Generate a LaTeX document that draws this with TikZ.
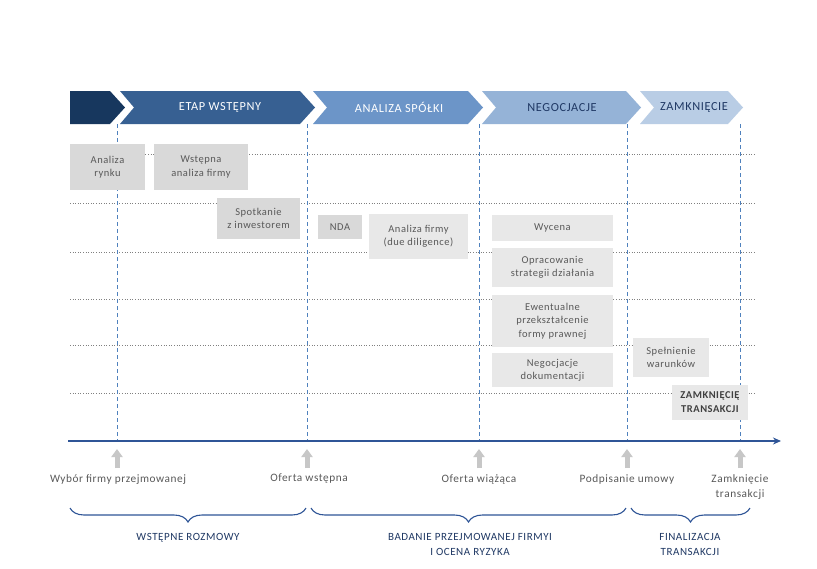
\documentclass[tikz,border=0pt]{standalone}
\usepackage{fontspec}
\setmainfont{Carlito}[LetterSpace=5]
\usetikzlibrary{arrows.meta,decorations.pathreplacing}
\definecolor{phaseA}{HTML}{17375E}
\definecolor{phaseB}{HTML}{376092}
\definecolor{phaseC}{HTML}{6C95C8}
\definecolor{phaseD}{HTML}{95B3D7}
\definecolor{phaseE}{HTML}{B9CDE5}
\definecolor{boxdark}{HTML}{D9D9D9}
\definecolor{boxlight}{HTML}{E8E8E8}
\definecolor{txtgray}{HTML}{595959}
\definecolor{axisblue}{HTML}{2F5597}
\definecolor{guideblue}{HTML}{4F81BD}
\definecolor{bracetxt}{HTML}{1F3864}
\begin{document}
\begin{tikzpicture}[x=1pt,y=-1pt]
\tikzstyle{task} = [rectangle, fill=boxdark, text=txtgray, align=center, inner sep=0pt, font=\fontsize{10.5}{13.3}\selectfont]
\tikzstyle{tasklight} = [task, fill=boxlight]
\tikzstyle{phase} = [font=\fontsize{12.3}{14}\selectfont]
\tikzstyle{milestone} = [anchor=north, align=center, text=txtgray, inner sep=2pt, font=\fontsize{11.3}{15}\selectfont]
\tikzstyle{stage} = [align=center, text=bracetxt, font=\fontsize{11}{15}\selectfont]
\tikzstyle{guide} = [guideblue, line width=1pt, dash pattern=on 4pt off 3pt]
\tikzstyle{row} = [gray, line width=0.6pt, dotted]
\tikzstyle{uparrow} = [boxdark!80!gray, line width=5pt, -{Triangle[width=11pt,length=8pt]}]
\tikzstyle{curly} = [axisblue, line width=1.1pt, decorate, decoration={brace, mirror, amplitude=14pt}]
\path[use as bounding box, fill=white] (0,0) rectangle (817,568);

% phases
\fill[phaseA] (70,91) -- (110,91) -- (125,107.5) -- (110,124) -- (70,124) -- cycle;
\foreach \xa/\xb/\col in {120/300/phaseB, 313/468/phaseC, 482/626/phaseD, 640/728/phaseE}
  \fill[\col] (\xa,91) -- (\xb,91) -- (\xb+15,107.5) -- (\xb,124) -- (\xa,124) -- (\xa+14,107.5) -- cycle;
\node[phase, text=white] (etap) at (220,107.5) {ETAP WSTĘPNY};
\node[phase, text=white] (analiza) at (399,107.5) {ANALIZA SPÓŁKI};
\node[phase, text=bracetxt] (negocjacje) at (562,107.5) {NEGOCJACJE};
\node[phase, text=bracetxt] (zamkniecie) at (694,107.5) {ZAMKNIĘCIE};

% grid
\foreach \y in {154, 203, 252, 299, 345, 393}
  \draw[row] (70,\y) -- (756,\y);
\foreach \i/\x in {1/117, 2/307, 3/479, 4/627, 5/740} {
  \coordinate (t\i) at (\x,124);
  \coordinate (m\i) at (\x,441);
  \draw[guide] (t\i) -- (m\i);
}

% tasks
\node[task, minimum width=75pt, minimum height=46pt] (rynek) at (107.5,167) {Analiza\\rynku};
\node[task, minimum width=94pt, minimum height=46pt] (wstepna) at (201,167) {Wstępna\\analiza firmy};
\node[task, minimum width=83pt, minimum height=41pt] (spotkanie) at (258.5,218.5) {Spotkanie\\z inwestorem};
\node[task, minimum width=44pt, minimum height=24pt] (nda) at (340,227) {NDA};
\node[tasklight, minimum width=99pt, minimum height=45pt] (dd) at (418.5,236.5) {Analiza firmy\\(due diligence)};
\node[tasklight, minimum width=121pt, minimum height=26pt] (wycena) at (552.5,228) {Wycena};
\node[tasklight, minimum width=121pt, minimum height=39pt] (strategia) at (552.5,267.5) {Opracowanie\\strategii działania};
\node[tasklight, minimum width=121pt, minimum height=52pt] (forma) at (552.5,321) {Ewentualne\\przekształcenie\\formy prawnej};
\node[tasklight, minimum width=121pt, minimum height=34pt] (dokumenty) at (552.5,370) {Negocjacje\\dokumentacji};
\node[tasklight, minimum width=76pt, minimum height=39pt] (warunki) at (671,357.5) {Spełnienie\\warunków};
\node[tasklight, minimum width=76pt, minimum height=35pt, text=black!75, font=\fontsize{10.5}{14}\selectfont\bfseries] (koniec) at (710,402.5) {ZAMKNIĘCIĘ\\TRANSAKCJI};

% time axis
\coordinate (axL) at (68,441);
\coordinate (axR) at (781,441);
\draw[axisblue, line width=1.8pt, -{Stealth[length=8pt,width=7pt]}] (axL) -- (axR);

% milestones
\node[milestone] (l1) at (118,472) {Wybór firmy przejmowanej};
\node[milestone] (l2) at (309,472) {Oferta wstępna};
\node[milestone] (l3) at (479,472) {Oferta wiążąca};
\node[milestone] (l4) at (627,472) {Podpisanie umowy};
\node[milestone] (l5) at (740,472) {Zamknięcie\\transakcji};
\foreach \i in {1,...,5}
  \draw[uparrow] ([yshift=4pt]l\i.north -| m\i) -- ([yshift=-8pt]m\i);

% stages
\coordinate (s1a) at (70,508);
\coordinate (s1b) at (306,508);
\coordinate (s2a) at (311,508);
\coordinate (s2b) at (626,508);
\coordinate (s3a) at (631,508);
\coordinate (s3b) at (750,508);
\draw[curly] (s1a) -- (s1b);
\draw[curly] (s2a) -- (s2b);
\draw[curly] (s3a) -- (s3b);
\node[stage, anchor=north] (rozmowy) at (188,530) {WSTĘPNE ROZMOWY};
\node[stage, anchor=north] (badanie) at (470,530) {BADANIE PRZEJMOWANEJ FIRMYI\\I OCENA RYZYKA};
\node[stage, anchor=north] (finalizacja) at (690,530) {FINALIZACJA\\TRANSAKCJI};
\end{tikzpicture}
\end{document}
